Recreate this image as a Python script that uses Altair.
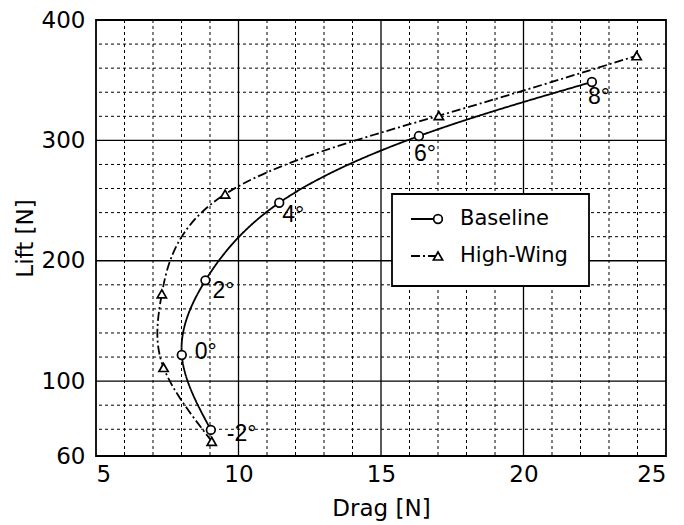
import altair as alt
import pandas as pd

# ---- data ----
angles = [-2, 0, 2, 4, 6, 8]
angle_labels = ["-2°", "0°", "2°", "4°", "6°", "8°"]
baseline_drag = [9.03, 8.01, 8.84, 11.43, 16.33, 22.4]
baseline_lift = [59.5, 121.7, 183.7, 248.2, 303.6, 348.5]
highwing_drag = [9.06, 7.37, 7.31, 9.53, 17.03, 23.97]
highwing_lift = [50.0, 111.3, 172.5, 255.3, 320.5, 370.3]
series_names = ["Baseline", "High-Wing"]

x_major = [5, 10, 15, 20, 25]
x_minor = [6, 7, 8, 9, 11, 12, 13, 14, 16, 17, 18, 19, 21, 22, 23, 24]
y_min = 37.8
y_major_grid = [100, 200, 300]
y_minor = [60, 80, 120, 140, 160, 180, 220, 240, 260, 280, 320, 340, 360, 380]
y_ticks = [y_min, 100, 200, 300, 400]

FONT = "DejaVu Sans"
ANNOT_FONT = "Liberation Sans"

rows = []
for name, dr, lf in [("Baseline", baseline_drag, baseline_lift),
                     ("High-Wing", highwing_drag, highwing_lift)]:
    for a, lab, d, l in zip(angles, angle_labels, dr, lf):
        rows.append({"series": name, "angle": a, "label": lab, "drag": d, "lift": l})
df = pd.DataFrame(rows)

xscale = alt.Scale(domain=[5, 25], nice=False, zero=False)
yscale = alt.Scale(domain=[y_min, 400], nice=False, zero=False)

xenc = alt.X("drag:Q", scale=xscale,
             axis=alt.Axis(values=x_major, title="Drag [N]", grid=False, domain=False,
                           ticks=False, labelFontSize=23, labelFont=FONT, labelColor="black",
                           labelPadding=7, titleFontSize=23, titleFont=FONT,
                           titleFontWeight="normal", titleColor="black", titlePadding=11))
yenc = alt.Y("lift:Q", scale=yscale,
             axis=alt.Axis(values=y_ticks, title="Lift [N]", grid=False, domain=False,
                           ticks=False, labelFontSize=23, labelFont=FONT, labelColor="black",
                           labelPadding=11,
                           labelExpr="datum.value < 60 ? '60' : datum.label",
                           titleFontSize=23, titleFont=FONT, titleFontWeight="normal",
                           titleColor="black", titlePadding=4))

# grid
minor_x = alt.Chart(pd.DataFrame({"drag": x_minor})).mark_rule(
    color="black", strokeWidth=1, strokeDash=[3, 3]).encode(x=alt.X("drag:Q", scale=xscale))
minor_y = alt.Chart(pd.DataFrame({"lift": y_minor})).mark_rule(
    color="black", strokeWidth=1, strokeDash=[3, 3]).encode(y=alt.Y("lift:Q", scale=yscale))
major_x = alt.Chart(pd.DataFrame({"drag": x_major[1:-1]})).mark_rule(
    color="black", strokeWidth=1.3).encode(x=alt.X("drag:Q", scale=xscale))
major_y = alt.Chart(pd.DataFrame({"lift": y_major_grid})).mark_rule(
    color="black", strokeWidth=1.3).encode(y=alt.Y("lift:Q", scale=yscale))

dash_scale = alt.Scale(domain=series_names, range=[[1, 0], [9, 3, 2, 3]])
shape_scale = alt.Scale(domain=series_names, range=["circle", "triangle-up"])
size_scale = alt.Scale(domain=series_names, range=[75, 85])

lines = alt.Chart(df).mark_line(interpolate="natural", color="black", strokeWidth=1.8).encode(
    x=xenc, y=yenc, order="angle:Q",
    strokeDash=alt.StrokeDash("series:N", scale=dash_scale, legend=None),
    detail="series:N")

points = alt.Chart(df).mark_point(fill="white", stroke="black", strokeWidth=1.7,
                                  opacity=1, fillOpacity=1).encode(
    x=alt.X("drag:Q", scale=xscale), y=alt.Y("lift:Q", scale=yscale),
    shape=alt.Shape("series:N", scale=shape_scale, legend=None),
    size=alt.Size("series:N", scale=size_scale, legend=None))

# angle annotations (offsets are styling)
label_offsets = {
    "-2°": ("left", 16, 4),
    "0°": ("left", 13, -3),
    "2°": ("left", 7, 11),
    "4°": ("left", 3, 12),
    "6°": ("center", 6, 18),
    "8°": ("left", -4, 15),
}
base_df = df[df["series"] == "Baseline"]
label_layers = []
for lab, (al, dx, dy) in label_offsets.items():
    sub = base_df[base_df["label"] == lab]
    label_layers.append(
        alt.Chart(sub).mark_text(align=al, baseline="middle", dx=dx, dy=dy,
                                 fontSize=23, font=ANNOT_FONT, color="black").encode(
            x=alt.X("drag:Q", scale=xscale), y=alt.Y("lift:Q", scale=yscale), text="label:N"))

# manual legend (pixel placement inside the plot area)
one = pd.DataFrame({"k": [0]})
leg_box = alt.Chart(one).mark_rect(fill="white", stroke="black", strokeWidth=1.8).encode(
    x=alt.value(296), x2=alt.value(493), y=alt.value(174), y2=alt.value(266))
leg_layers = [leg_box]
row_y = [199, 236]
leg_dash = [[1, 0], [9, 3, 2, 3]]
leg_shape = ["circle", "triangle-up"]
leg_size = [75, 85]
for name, ry, dsh, shp, sz in zip(series_names, row_y, leg_dash, leg_shape, leg_size):
    leg_layers.append(alt.Chart(one).mark_rule(color="black", strokeWidth=1.8, strokeDash=dsh).encode(
        x=alt.value(315), x2=alt.value(342), y=alt.value(ry)))
    leg_layers.append(alt.Chart(one).mark_point(shape=shp, fill="white", stroke="black",
                                                strokeWidth=1.7, opacity=1, fillOpacity=1,
                                                size=sz).encode(
        x=alt.value(342), y=alt.value(ry)))
    leg_layers.append(alt.Chart(pd.DataFrame({"t": [name]})).mark_text(
        align="left", baseline="middle", fontSize=21, font=FONT, color="black").encode(
        x=alt.value(364), y=alt.value(ry), text="t:N"))

chart = alt.layer(minor_x, minor_y, major_x, major_y, lines, points, *label_layers, *leg_layers).properties(
    width=570, height=436,
    autosize=alt.AutoSizeParams(type="none"),
    padding={"left": 88, "top": 12, "right": 10, "bottom": 68},
    background="white",
).configure_view(stroke="black", strokeWidth=1.8)

chart.save("out.html", embed_options={"renderer": "svg", "actions": False})
